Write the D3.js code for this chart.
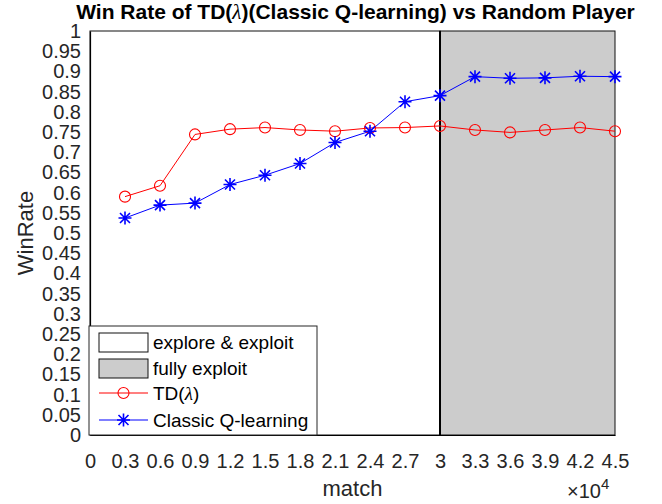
<!DOCTYPE html>
<html>
<head>
<meta charset="utf-8">
<script src="https://cdn.jsdelivr.net/npm/d3@7"></script>
<style>
  body { margin: 0; background: #fff; }
  text { font-family: "Liberation Sans", Arial, sans-serif; }
</style>
</head>
<body>
<script>
// data
let matches = [3000, 6000, 9000, 12000, 15000, 18000, 21000, 24000, 27000, 30000, 33000, 36000, 39000, 42000, 45000];
let tdLambda = [0.590, 0.617, 0.744, 0.757, 0.761, 0.755, 0.752, 0.760, 0.761, 0.765, 0.755, 0.749, 0.755, 0.761, 0.752];
let qLearning = [0.537, 0.569, 0.574, 0.620, 0.643, 0.672, 0.724, 0.752, 0.825, 0.840, 0.887, 0.883, 0.884, 0.888, 0.887];
let xTicks = [0, 3000, 6000, 9000, 12000, 15000, 18000, 21000, 24000, 27000, 30000, 33000, 36000, 39000, 42000, 45000];
let yTicks = d3.range(0, 21).map(function(i){ return i * 0.05; });
let phases = [
  {name: 'explore & exploit', from: 0, to: 30000, fill: '#ffffff'},
  {name: 'fully exploit', from: 30000, to: 45000, fill: '#cccccc'}
];

let width = 662, height = 504;
let margin = {top: 31, right: 47, bottom: 69, left: 90};

let svg = d3.select('body').append('svg')
    .attr('width', width)
    .attr('height', height);

// x scale in raw matches, y in win rate
let x = d3.scaleLinear().domain([0, 45000]).range([margin.left, width - margin.right]);
let y = d3.scaleLinear().domain([0, 1]).range([height - margin.bottom, margin.top]);

// shaded phases
svg.selectAll('.phase')
    .data(phases)
  .enter().append('rect')
    .attr('class', 'phase')
    .attr('x', function(d){ return x(d.from); })
    .attr('y', y(1))
    .attr('width', function(d){ return x(d.to) - x(d.from); })
    .attr('height', y(0) - y(1))
    .attr('fill', function(d){ return d.fill; })
    .attr('stroke', '#111')
    .attr('stroke-width', 1);

svg.append('line') // border between phases
    .attr('x1', x(30000)).attr('x2', x(30000))
    .attr('y1', y(1)).attr('y2', y(0))
    .attr('stroke', '#000')
    .attr('stroke-width', 2);

let xAxis = d3.axisBottom(x)
    .tickValues(xTicks)
    .tickSize(0)
    .tickPadding(19)
    .tickFormat(function(d){ return String(+(d / 10000).toFixed(1)); });

let yAxis = d3.axisLeft(y)
    .tickValues(yTicks)
    .tickSize(0)
    .tickPadding(9)
    .tickFormat(function(d){ return String(+d.toFixed(2)); });

let gx = svg.append('g')
    .attr('transform', 'translate(0,' + y(0) + ')')
    .call(xAxis);
let gy = svg.append('g')
    .attr('transform', 'translate(' + x(0) + ',0)')
    .call(yAxis);

[gx, gy].forEach(function(g){
  g.select('.domain').attr('stroke', '#000').attr('stroke-width', 1.2);
  g.selectAll('text').attr('font-size', 20).attr('fill', '#262626')
    .attr('font-family', '"Liberation Sans", Arial, sans-serif');
});

// lines
let line = function(vals){
  return d3.line()
    .x(function(d, i){ return x(matches[i]); })
    .y(function(d){ return y(d); })(vals);
};

svg.append('path')
    .attr('d', line(tdLambda))
    .attr('fill', 'none')
    .attr('stroke', '#ff0000')
    .attr('stroke-width', 1);

svg.append('path')
    .attr('d', line(qLearning))
    .attr('fill', 'none')
    .attr('stroke', '#0000ff')
    .attr('stroke-width', 1);

function circleMark(g, cx, cy){
  g.append('circle')
      .attr('cx', cx).attr('cy', cy).attr('r', 5.5)
      .attr('fill', 'none')
      .attr('stroke', '#ff0000')
      .attr('stroke-width', 1.1);
}

function starMark(g, cx, cy){
  let s = 6.5, d = 5;
  let p = 'M' + (cx - s) + ',' + cy + 'H' + (cx + s) +
          'M' + cx + ',' + (cy - s) + 'V' + (cy + s) +
          'M' + (cx - d) + ',' + (cy - d) + 'L' + (cx + d) + ',' + (cy + d) +
          'M' + (cx - d) + ',' + (cy + d) + 'L' + (cx + d) + ',' + (cy - d);
  g.append('path')
      .attr('d', p)
      .attr('stroke', '#0000ff')
      .attr('stroke-width', 1.6)
      .attr('fill', 'none');
}

let marks = svg.append('g');
tdLambda.forEach(function(v, i){ circleMark(marks, x(matches[i]), y(v)); });
qLearning.forEach(function(v, i){ starMark(marks, x(matches[i]), y(v)); });

// title and labels
let title = svg.append('text')
    .attr('x', (x(0) + x(45000)) / 2 + 3)
    .attr('y', 19)
    .attr('text-anchor', 'middle')
    .attr('font-size', 21)
    .attr('font-weight', 'bold')
    .attr('fill', '#000');
title.append('tspan').text('Win Rate of TD(');
title.append('tspan').attr('font-style', 'italic').attr('font-weight', 'normal')
    .attr('font-family', '"Liberation Serif", serif').text('λ');
title.append('tspan').text(')(Classic Q-learning) vs Random Player');

svg.append('text')
    .attr('x', (x(0) + x(45000)) / 2)
    .attr('y', 496)
    .attr('text-anchor', 'middle')
    .attr('font-size', 22)
    .attr('fill', '#262626')
    .text('match');

svg.append('text')
    .attr('transform', 'translate(33,' + (y(0) + y(1)) / 2 + ') rotate(-90)')
    .attr('text-anchor', 'middle')
    .attr('font-size', 22)
    .attr('fill', '#262626')
    .text('WinRate');

let expo = svg.append('text')
    .attr('x', 567)
    .attr('y', 498)
    .attr('font-size', 20)
    .attr('fill', '#262626');
expo.append('tspan').text('×10');
expo.append('tspan').attr('dy', -9).attr('font-size', 15).text('4');

// legend
let lg = svg.append('g');
lg.append('rect')
    .attr('x', 89).attr('y', 326)
    .attr('width', 228).attr('height', 109)
    .attr('fill', '#fff')
    .attr('stroke', '#262626')
    .attr('stroke-width', 1);

phases.forEach(function(p, i){
  let yy = 333 + i * 26;
  lg.append('rect')
      .attr('x', 99).attr('y', yy)
      .attr('width', 49).attr('height', 19)
      .attr('fill', p.fill)
      .attr('stroke', '#111');
  lg.append('text')
      .attr('x', 153).attr('y', yy + 16)
      .attr('font-size', 19)
      .attr('fill', '#000')
      .text(p.name);
});

let series = [
  {pre: 'TD(', greek: 'λ', post: ')', color: '#ff0000', mark: circleMark},
  {pre: 'Classic Q-learning', greek: '', post: '', color: '#0000ff', mark: starMark}
];
series.forEach(function(s, i){
  let yy = 393 + i * 27;
  lg.append('line')
      .attr('x1', 99).attr('x2', 148)
      .attr('y1', yy).attr('y2', yy)
      .attr('stroke', s.color)
      .attr('stroke-width', 1.2);
  s.mark(lg, 123.5, yy);
  let t = lg.append('text')
      .attr('x', 153).attr('y', yy + 7)
      .attr('font-size', 19)
      .attr('fill', '#000');
  t.append('tspan').text(s.pre);
  if (s.greek) {
    t.append('tspan').attr('font-style', 'italic')
        .attr('font-family', '"Liberation Serif", serif').text(s.greek);
    t.append('tspan').text(s.post);
  }
});
</script>
</body>
</html>
